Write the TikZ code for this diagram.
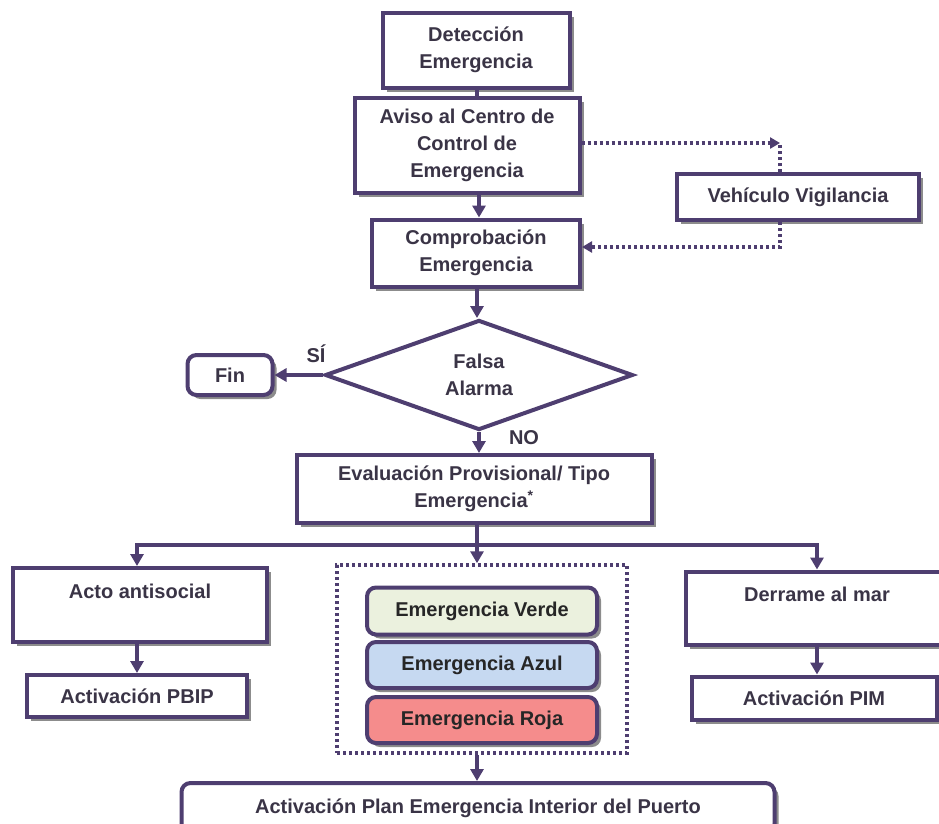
\documentclass[tikz,border=0pt]{standalone}
\usepackage{fontspec}
\setmainfont{Liberation Sans}
\usetikzlibrary{positioning,shapes,shadows,arrows.meta}
\definecolor{linea}{RGB}{78,62,112}
\definecolor{texto}{RGB}{58,52,70}
\definecolor{sombra}{RGB}{140,140,140}
\definecolor{verde}{RGB}{235,241,222}
\definecolor{azul}{RGB}{198,217,241}
\definecolor{roja}{RGB}{245,140,140}

\begin{document}
\begin{tikzpicture}[x=1pt,y=-1pt]
\useasboundingbox (0,0) rectangle (939,823);
\tikzstyle{every node}=[font=\fontsize{20}{27}\selectfont\bfseries, text=texto, align=center, inner sep=0pt]
\tikzstyle{caja}=[draw=linea, line width=4pt, fill=white, drop shadow={shadow xshift=4pt, shadow yshift=-4pt, fill=sombra, opacity=1}]
\tikzstyle{redonda}=[caja, rounded corners=9pt]
\tikzstyle{flecha}=[draw=linea, line width=3.5pt, -{Triangle[length=12pt,width=13pt]}]
\tikzstyle{linea}=[draw=linea, line width=3.5pt]
\tikzstyle{punteada}=[draw=linea, line width=3.5pt, dash pattern=on 3pt off 3pt]

% parte superior
\node[caja, minimum width=187pt, minimum height=75pt] (det) at (476,50) {Detección\\Emergencia};
\node[caja, minimum width=225pt, minimum height=95pt] (aviso) at (467,145) {Aviso al Centro de\\Control de\\Emergencia};
\node[caja, minimum width=208pt, minimum height=67pt] (comp) at (476,253) {Comprobación\\Emergencia};
\node[caja, minimum width=242pt, minimum height=46pt] (veh) at (798,197) {Vehículo Vigilancia};
\node[draw=linea, line width=4pt, fill=white, shape=diamond, minimum width=308pt, minimum height=110pt] (alarma) at (479,375) {Falsa\\Alarma};
\node[redonda, minimum width=85pt, minimum height=40pt] (fin) at (230,375) {Fin};
\node (si) at (316,354) {SÍ};
\node (no) at (524,438) {NO};
\node[caja, minimum width=355pt, minimum height=68pt] (eval) at (474,489) {Evaluación Provisional/ Tipo\\Emergencia\textsuperscript{*}};

% ramas
\node[caja, minimum width=254pt, minimum height=74pt] (acto) at (140,605) {Acto antisocial\\\phantom{A}};
\node[caja, minimum width=220pt, minimum height=42pt] (pbip) at (137,696) {Activación PBIP};
\node[punteada, minimum width=290pt, minimum height=188pt] (grupo) at (482,659) {};
\node[redonda, fill=verde, text=black!85, minimum width=230pt, minimum height=47pt] (verde) at (482,611) {Emergencia Verde};
\node[redonda, fill=azul, text=black!85, minimum width=230pt, minimum height=46pt] (azul) at (482,665) {Emergencia Azul};
\node[redonda, fill=roja, text=black!85, minimum width=230pt, minimum height=46pt] (roja) at (482,720) {Emergencia Roja};
\node[caja, minimum width=262pt, minimum height=73pt] (derrame) at (817,608) {Derrame al mar\\\phantom{A}};
\node[caja, minimum width=245pt, minimum height=43pt] (pim) at (814,698) {Activación PIM};
\node[redonda, minimum width=593pt, minimum height=50pt] (puerto) at (478,808) {Activación Plan Emergencia Interior del Puerto};

\coordinate (esq1) at (780,143);
\coordinate (esq2) at (780,247);
\coordinate (rama) at (477,545);

\draw[linea] (det.south -| rama) -- (aviso.north -| rama);
\draw[flecha] (aviso.south -| alarma) -- (comp.north -| alarma);
\draw[flecha] (comp.south -| rama) -- (alarma.north -| rama);
\draw[punteada, -{Triangle[length=10pt,width=11pt]}] (aviso.east |- esq1) -- (esq1);
\draw[punteada] (esq1 |- veh.north) -- (esq1);
\draw[punteada, -{Triangle[length=10pt,width=11pt]}] (esq2 |- veh.south) -- (esq2) -- (esq2 -| comp.east);
\draw[flecha] (alarma.west) -- (fin.east);
\draw[flecha] (alarma.south) -- (alarma.south |- eval.north);
\draw[linea] (eval.south -| rama) -- (rama);
\draw[flecha] (rama) -| (acto.north -| pbip);
\draw[flecha] (rama) -| (derrame.north);
\draw[flecha] (rama) -- (grupo.north -| rama);
\draw[flecha] (acto.south -| pbip) -- (pbip.north);
\draw[flecha] (derrame.south) -- (derrame.south |- pim.north);
\draw[flecha] (grupo.south -| rama) -- (puerto.north -| rama);
\end{tikzpicture}
\end{document}
